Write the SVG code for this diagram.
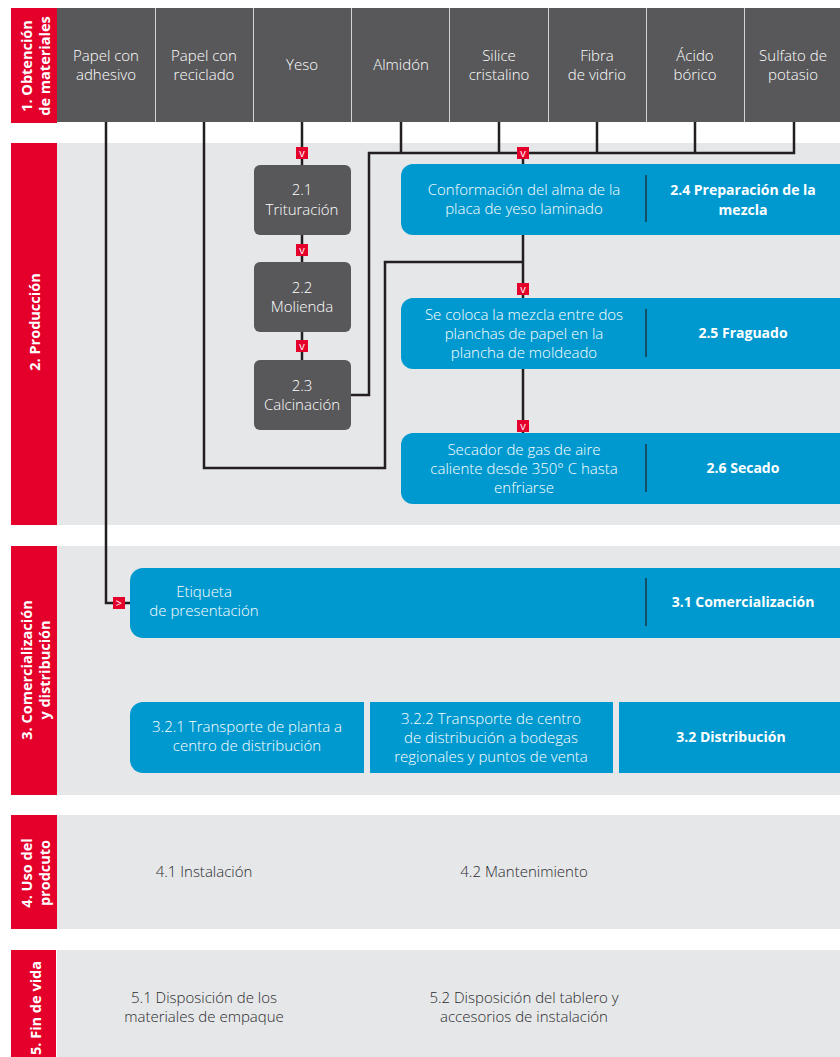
<svg xmlns="http://www.w3.org/2000/svg" xmlns:xlink="http://www.w3.org/1999/xlink" width="840" height="1057" viewBox="0 0 840 1057">
<style>
.bg{fill:#e6e7e9}
.red{fill:#e4002b}
.hdr{fill:#58585a}
.sep{stroke:#d4d4d4;stroke-width:1}
.dark{fill:#58585a}
.blue{fill:#0099cf}
.div{stroke:#231f20;stroke-width:1.2}
.con{fill:none;stroke:#231f20;stroke-width:2.5}
text{font-family:"Open Sans","Noto Sans","DejaVu Sans",sans-serif;font-size:15px}
.w{fill:#ffffff;text-anchor:middle;font-weight:300}
.wb{fill:#ffffff;text-anchor:middle;font-weight:700;font-size:14px}
.lab{fill:#ffffff;text-anchor:middle;font-weight:700;font-size:14.5px}
.g{fill:#2a2a2c;text-anchor:middle;font-weight:300}
.mk{fill:#ffffff;text-anchor:middle;font-weight:400;font-size:11px}
</style>
<defs>
<g id="mv"><rect x="-6" y="-6" width="12" height="12" fill="#e4002b"/><text class="mk" x="0" y="3.5">v</text></g>
<g id="mr"><rect x="-6" y="-6" width="12" height="12" fill="#e4002b"/><text class="mk" x="0" y="3.8">&gt;</text></g>
</defs>

<g id="sections">
<rect class="red" x="11" y="8" width="46" height="115"/>
<rect class="bg" x="57" y="143" width="783" height="382"/>
<rect class="red" x="11" y="143" width="46" height="382"/>
<rect class="bg" x="57" y="546" width="783" height="249"/>
<rect class="red" x="11" y="546" width="46" height="249"/>
<rect class="bg" x="57" y="815" width="783" height="114"/>
<rect class="red" x="11" y="815" width="46" height="114"/>
<rect class="bg" x="57" y="950" width="783" height="107"/>
<rect class="red" x="11" y="950" width="45" height="107"/>
<text class="lab" transform="translate(32,66) rotate(-90)"><tspan x="0" y="0">1. Obtención</tspan><tspan x="0" y="18">de materiales</tspan></text>
<text class="lab" transform="translate(40,322) rotate(-90)">2. Producción</text>
<text class="lab" transform="translate(32,670) rotate(-90)"><tspan x="0" y="0">3. Comercialización</tspan><tspan x="0" y="18">y distribución</tspan></text>
<text class="lab" transform="translate(32,873) rotate(-90)"><tspan x="0" y="0">4. Uso del</tspan><tspan x="0" y="18">prodcuto</tspan></text>
<text class="lab" transform="translate(41,1008) rotate(-90)">5. Fin de vida</text>
</g>

<g id="connectors">
<path class="con" d="M106 122 V603 H131"/>
<path class="con" d="M204 122 V468 H385 V262 H523"/>
<path class="con" d="M302 122 V166"/>
<path class="con" d="M401 122 V153 M499 122 V153 M597 122 V153 M695 122 V153"/>
<path class="con" d="M794 122 V153 H369 V395 H350"/>
<path class="con" d="M523 153 V165"/>
<path class="con" d="M302 234 V263 M302 331 V361"/>
<path class="con" d="M523 234 V299 M523 368 V434"/>
</g>

<g id="header">
<rect class="hdr" x="57" y="8" width="783" height="114"/>
<path class="sep" d="M155.5 8 V122 M253.5 8 V122 M351.5 8 V122 M449.5 8 V122 M548.5 8 V122 M646.5 8 V122 M744.5 8 V122"/>
<g id="m1"><text class="w" x="106" y="61">Papel con</text><text class="w" x="106" y="80">adhesivo</text></g>
<g id="m2"><text class="w" x="204" y="61">Papel con</text><text class="w" x="204" y="80">reciclado</text></g>
<g id="m3"><text class="w" x="302" y="70">Yeso</text></g>
<g id="m4"><text class="w" x="401" y="70">Almidón</text></g>
<g id="m5"><text class="w" x="499" y="61">Silice</text><text class="w" x="499" y="80">cristalino</text></g>
<g id="m6"><text class="w" x="597" y="61">Fibra</text><text class="w" x="597" y="80">de vidrio</text></g>
<g id="m7"><text class="w" x="695" y="61">Ácido</text><text class="w" x="695" y="80">bórico</text></g>
<g id="m8"><text class="w" x="793" y="61">Sulfato de</text><text class="w" x="793" y="80">potasio</text></g>
</g>

<g id="n21"><rect class="dark" x="254" y="165" width="97" height="70" rx="6"/><text class="w" x="302" y="195">2.1</text><text class="w" x="302" y="215">Trituración</text></g>
<g id="n22"><rect class="dark" x="254" y="262" width="97" height="70" rx="6"/><text class="w" x="302" y="293">2.2</text><text class="w" x="302" y="312">Molienda</text></g>
<g id="n23"><rect class="dark" x="254" y="360" width="97" height="70" rx="6"/><text class="w" x="302" y="391">2.3</text><text class="w" x="302" y="410">Calcinación</text></g>

<g id="n24"><path class="blue" d="M413 164 H840 V235 H413 A12 12 0 0 1 401 223 V176 A12 12 0 0 1 413 164 Z"/>
<line class="div" x1="646" y1="175" x2="646" y2="222"/>
<text class="w" x="524" y="195">Conformación del alma de la</text><text class="w" x="524" y="214">placa de yeso laminado</text>
<text class="wb" x="743" y="195">2.4 Preparación de la</text><text class="wb" x="743" y="215">mezcla</text></g>

<g id="n25"><path class="blue" d="M413 298 H840 V369 H413 A12 12 0 0 1 401 357 V310 A12 12 0 0 1 413 298 Z"/>
<line class="div" x1="646" y1="309" x2="646" y2="357"/>
<text class="w" x="524" y="320">Se coloca la mezcla entre dos</text><text class="w" x="524" y="339">planchas de papel en la</text><text class="w" x="524" y="358">plancha de moldeado</text>
<text class="wb" x="743" y="338">2.5 Fraguado</text></g>

<g id="n26"><path class="blue" d="M413 433 H840 V504 H413 A12 12 0 0 1 401 492 V445 A12 12 0 0 1 413 433 Z"/>
<line class="div" x1="646" y1="444" x2="646" y2="492"/>
<text class="w" x="524" y="455">Secador de gas de aire</text><text class="w" x="524" y="474">caliente desde 350° C hasta</text><text class="w" x="524" y="493">enfriarse</text>
<text class="wb" x="743" y="473">2.6 Secado</text></g>

<g id="n31"><path class="blue" d="M143 568 H840 V638 H143 A13 13 0 0 1 130 625 V581 A13 13 0 0 1 143 568 Z"/>
<line class="div" x1="646" y1="578" x2="646" y2="626"/>
<text class="w" x="204" y="597">Etiqueta</text><text class="w" x="204" y="616">de presentación</text>
<text class="wb" x="743" y="607">3.1 Comercialización</text></g>

<g id="n321"><path class="blue" d="M143 702 H364 V773 H143 A13 13 0 0 1 130 760 V715 A13 13 0 0 1 143 702 Z"/>
<text class="w" x="247" y="732">3.2.1 Transporte de planta a</text><text class="w" x="247" y="751">centro de distribución</text></g>
<g id="n322"><rect class="blue" x="370" y="702" width="243" height="71"/>
<text class="w" x="491" y="724">3.2.2 Transporte de centro</text><text class="w" x="491" y="743">de distribución a bodegas</text><text class="w" x="491" y="762">regionales y puntos de venta</text></g>
<g id="n32"><rect class="blue" x="619" y="702" width="221" height="71"/>
<text class="wb" x="731" y="742">3.2 Distribución</text></g>

<g id="n41"><text class="g" x="204" y="877">4.1 Instalación</text></g>
<g id="n42"><text class="g" x="524" y="877">4.2 Mantenimiento</text></g>
<g id="n51"><text class="g" x="204" y="1003">5.1 Disposición de los</text><text class="g" x="204" y="1022">materiales de empaque</text></g>
<g id="n52"><text class="g" x="524" y="1003">5.2 Disposición del tablero y</text><text class="g" x="524" y="1022">accesorios de instalación</text></g>

<g id="markers">
<use xlink:href="#mv" x="302" y="153"/>
<use xlink:href="#mv" x="523" y="153"/>
<use xlink:href="#mv" x="302" y="250"/>
<use xlink:href="#mv" x="302" y="346"/>
<use xlink:href="#mv" x="523" y="289"/>
<use xlink:href="#mv" x="523" y="426"/>
<use xlink:href="#mr" x="119" y="603"/>
</g>
</svg>
